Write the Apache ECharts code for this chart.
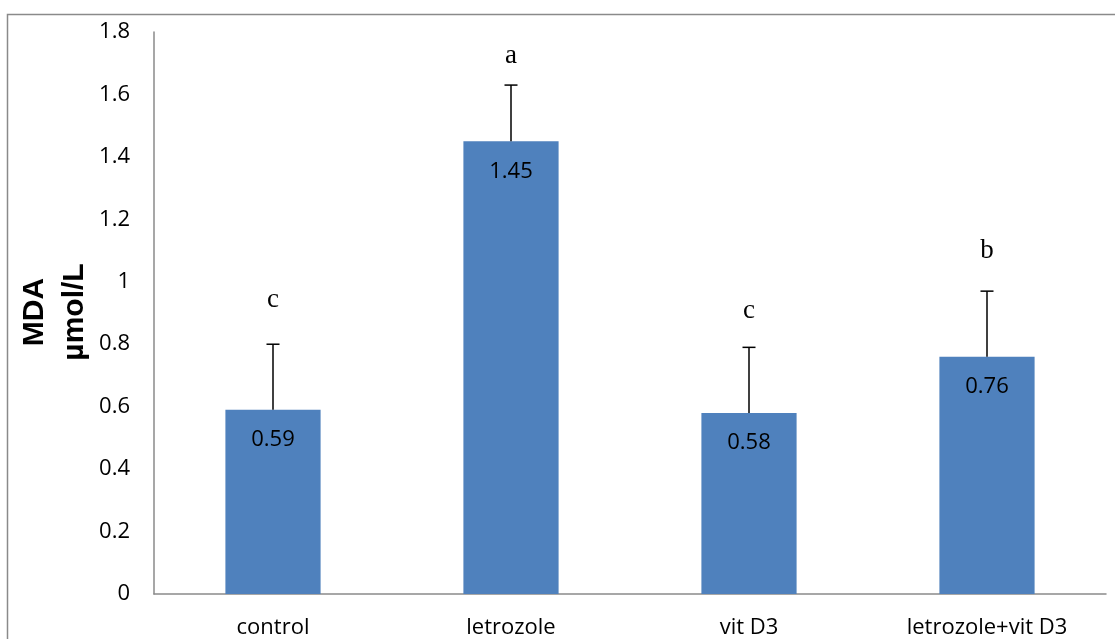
<!DOCTYPE html>
<html>
<head>
<meta charset="utf-8">
<script src="https://cdn.jsdelivr.net/npm/echarts@6/dist/echarts.min.js"></script>
<style>
html,body{margin:0;padding:0;background:#fff;}
#chart{width:1115px;height:639px;}
</style>
</head>
<body>
<div id="chart"></div>
<script>
const categories = ['control', 'letrozole', 'vit D3', 'letrozole+vit D3'];
const meanValues = [0.59, 1.45, 0.58, 0.76];
const errorValues = [0.21, 0.18, 0.21, 0.21];
const groupLetters = ['c', 'a', 'c', 'b'];
const letterLevels = [0.932, 1.714, 0.898, 1.089];
const yTitleLines = ['MDA', 'µmol/L'];
const yTicks = {min: 0, max: 1.8, interval: 0.2};

const chart = echarts.init(document.getElementById('chart'));
const FONT = '"Open Sans", sans-serif';
const TITLE_FONT = 'bold 30px "Liberation Sans", Arial, sans-serif';

const customData = categories.map((c, i) => [i, meanValues[i], meanValues[i] + errorValues[i], letterLevels[i]]);

chart.setOption({
  animation: false,
  backgroundColor: '#fff',
  graphic: [{
    type: 'rect',
    shape: {x: 7.5, y: 14.5, width: 1200, height: 800},
    style: {fill: 'none', stroke: '#8a8a8a', lineWidth: 1.5},
    silent: true
  }, {
    type: 'text', x: 35, y: 312, rotation: Math.PI / 2,
    style: {text: yTitleLines[0], font: TITLE_FONT, fill: '#000', align: 'center', verticalAlign: 'middle'}
  }, {
    type: 'text', x: 75, y: 312, rotation: Math.PI / 2,
    style: {text: yTitleLines[1], font: TITLE_FONT, fill: '#000', align: 'center', verticalAlign: 'middle'}
  }],
  grid: {left: 154, right: 9, top: 32, bottom: 45, outerBoundsMode: 'none', containLabel: false},
  xAxis: {
    type: 'category',
    data: categories,
    axisLine: {lineStyle: {color: '#8a8a8a', width: 1.5}},
    axisTick: {show: false},
    axisLabel: {fontFamily: FONT, fontSize: 22, color: '#000', margin: 23, interval: 0},
    splitLine: {show: false}
  },
  yAxis: {
    type: 'value',
    min: yTicks.min, max: yTicks.max, interval: yTicks.interval,
    axisLine: {show: true, lineStyle: {color: '#8a8a8a', width: 1.5}},
    axisTick: {show: false},
    splitLine: {show: false},
    axisLabel: {fontFamily: FONT, fontSize: 22, color: '#000', margin: 24,
      formatter: v => String(Math.round(v * 10) / 10)}
  },
  series: [{
    type: 'bar',
    data: meanValues,
    barWidth: '40%',
    itemStyle: {color: '#4F81BD'},
    label: {
      show: true, position: 'insideTop', distance: 19,
      fontFamily: FONT, fontSize: 22, color: '#000', lineHeight: 22,
      formatter: p => p.value.toFixed(2)
    },
    z: 2
  }, {
    type: 'custom',
    data: customData,
    z: 5,
    renderItem: function (params, api) {
      const i = api.value(0);
      const base = api.coord([i, api.value(1)]);
      const top = api.coord([i, api.value(2)]);
      const lt = api.coord([i, api.value(3)]);
      const half = 6.5;
      return {
        type: 'group',
        children: [
          {type: 'line', shape: {x1: base[0], y1: base[1], x2: top[0], y2: top[1]},
            style: {stroke: '#000', lineWidth: 1.5}},
          {type: 'line', shape: {x1: top[0] - half, y1: top[1], x2: top[0] + half, y2: top[1]},
            style: {stroke: '#000', lineWidth: 1.5}},
          {type: 'text', x: lt[0], y: lt[1] - 3,
            style: {text: groupLetters[params.dataIndex], fill: '#000',
              font: '27px "Liberation Serif", "Times New Roman", serif',
              align: 'center', verticalAlign: 'middle'}}
        ]
      };
    }
  }]
});
</script>
</body>
</html>
